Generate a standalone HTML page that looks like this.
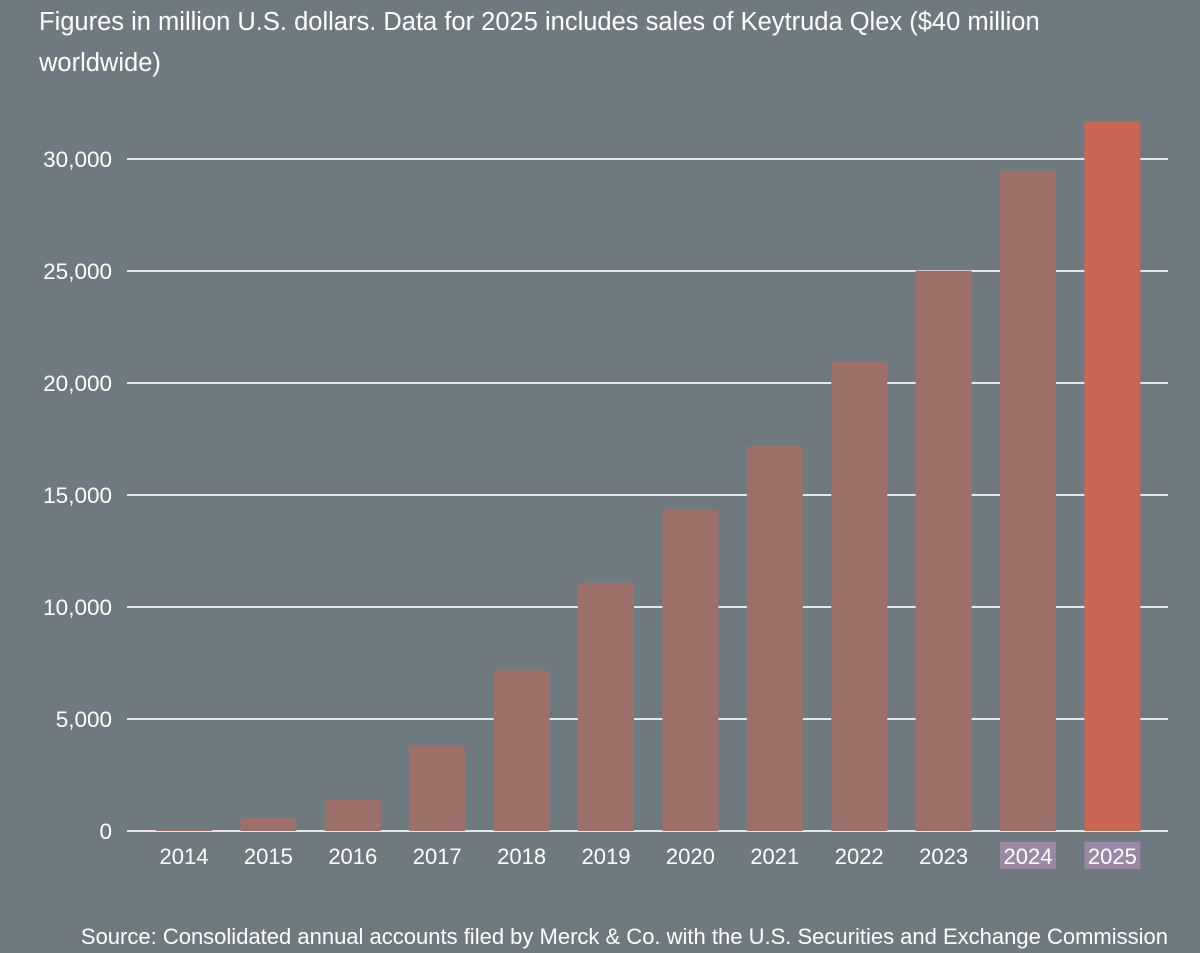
<!DOCTYPE html>
<html><head><meta charset="utf-8">
<style>
html,body{margin:0;padding:0;background:#6f7a80;}
body{width:1200px;height:953px;overflow:hidden;font-family:"Liberation Sans",sans-serif;color:#fff;}
#title{position:absolute;left:39px;top:2px;width:1040px;font-size:25.5px;line-height:41px;}
#src{position:absolute;right:32px;top:924px;font-size:22px;white-space:nowrap;}
</style></head><body>
<div id="title">Figures in million U.S. dollars. Data for 2025 includes sales of Keytruda Qlex ($40 million worldwide)</div>
<svg id="chart" width="1200" height="953" style="position:absolute;left:0;top:0"></svg>
<div id="src">Source: Consolidated annual accounts filed by Merck &amp; Co. with the U.S. Securities and Exchange Commission</div>
<script>
const categories=["2014","2015","2016","2017","2018","2019","2020","2021","2022","2023","2024","2025"];
const values=[55,566,1402,3809,7171,11084,14380,17186,20937,25011,29482,31680];
const yTicks=[0,5000,10000,15000,20000,25000,30000];
const yTickLabels=["0","5,000","10,000","15,000","20,000","25,000","30,000"];
const NS="http://www.w3.org/2000/svg";
const svg=document.getElementById('chart');
const y=v=>831-v/5000*112;
const x=i=>184+i*84.4;
function mk(t,a){const e=document.createElementNS(NS,t);for(const k in a)e.setAttribute(k,a[k]);svg.appendChild(e);return e;}
yTicks.forEach((v,i)=>{
  const l=mk('line',{x1:127,x2:1168,y1:y(v),y2:y(v),stroke:'#e6e6e6','stroke-width':2});
  
  
  const t=mk('text',{x:112,y:y(v)+8,'text-anchor':'end',fill:'#fff','font-size':22.5,'font-family':'Liberation Sans, sans-serif'});
  t.textContent=yTickLabels[i];
  
  
});
categories.forEach((c,i)=>{
  const last=i===categories.length-1;
  const r=mk('rect',{x:x(i)-28,y:y(values[i]),width:56,height:831-y(values[i]),fill:last?'#c96552':'#9c7068'});
  
  
  if(i>=10){
    const bg=mk('rect',{x:x(i)-28,y:842,width:56,height:27,fill:'#9b88a6'});
    
    
  }
  const t=mk('text',{x:x(i),y:864,'text-anchor':'middle',fill:'#fff','font-size':22,'font-family':'Liberation Sans, sans-serif'});
  t.textContent=c;
  
  
});
</script>
</body></html>
